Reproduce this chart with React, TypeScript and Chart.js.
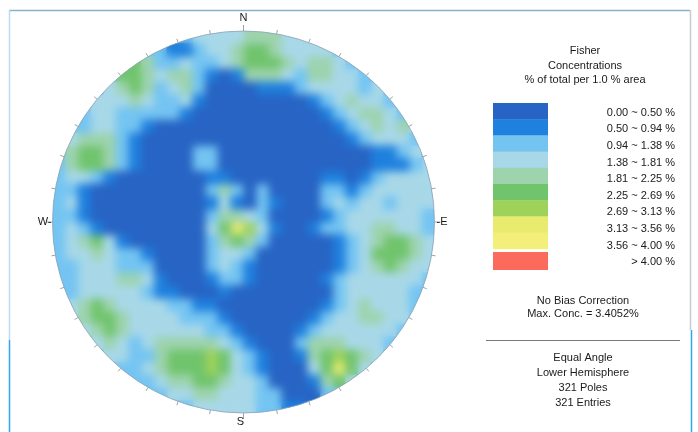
import React, { useEffect, useRef } from 'react';
import { Chart, registerables } from 'chart.js';

Chart.register(...registerables);

// Contour level (1..9) of each grid cell of the stereonet, rows from north to south, '.' = outside the net
const GRID_ROWS: string[] = [
  ".........334444555444.........",
  ".......3322344566544443.......",
  ".....56533433456665455433.....",
  "....3665455321255543554433....",
  "...345653453111122234444343...",
  "..3444543342111111112345443...",
  "..34433333211111111112345543..",
  ".3344332111111111111112345454.",
  ".4555321111111111111111234443.",
  "356653211113311111111111122343",
  "356653211113311111111111122234",
  "344321111111221111111221234444",
  "332111111111353131111332344444",
  "342111111111242132111343443444",
  "332111111111355431111234444443",
  "343211111111468742112334455443",
  "345642111111356531111123456654",
  "344543321111344311111123466654",
  "334443331111343211111123456544",
  "334445542111233211111234444443",
  "334444432211121111111134444433",
  ".4565444433221111111123454443.",
  ".4566544443332111111234455443.",
  "..45654444443321111234444443..",
  "..3454345555543211135554443...",
  "...344335666764321125676543...",
  "....3334566676432111468643....",
  ".....33345566544311125643.....",
  ".......3344554443311133.......",
  ".........334444433223.........",
];

const LEVEL_LABELS: string[] = [
  "0.00 ~ 0.50 %",
  "0.50 ~ 0.94 %",
  "0.94 ~ 1.38 %",
  "1.38 ~ 1.81 %",
  "1.81 ~ 2.25 %",
  "2.25 ~ 2.69 %",
  "2.69 ~ 3.13 %",
  "3.13 ~ 3.56 %",
  "3.56 ~ 4.00 %",
  "> 4.00 %",
];

const LEVEL_COLORS: string[] = [
  "#2764c4",
  "#1f80de",
  "#74c4f2",
  "#a8d8e8",
  "#9dd3ad",
  "#70c46c",
  "#9ed25a",
  "#e9eb6e",
  "#f3ef7a",
  "#fb6a5a",
];

const COMPASS: string[] = ["N", "-E", "S", "W-"];
const TITLE_LINES: string[] = ["Fisher", "Concentrations", "% of total per 1.0 % area"];
const NOTE_LINES: string[] = ["No Bias Correction", "Max. Conc. = 3.4052%"];
const INFO_LINES: string[] = ["Equal Angle", "Lower Hemisphere", "321 Poles", "321 Entries"];

const FONT = '11px "Liberation Sans", Arial, sans-serif';

function circleOf(chart: any) {
  const x = chart.scales.x;
  const y = chart.scales.y;
  const cx = x.getPixelForValue(0);
  const cy = y.getPixelForValue(0);
  const r = x.getPixelForValue(1) - cx;
  return { cx, cy, r };
}

const stereoPlugin = {
  id: 'stereo',
  beforeDatasetsDraw(chart: any) {
    const { ctx } = chart;
    const { cx, cy, r } = circleOf(chart);
    ctx.save();
    ctx.beginPath();
    ctx.arc(cx, cy, r, 0, Math.PI * 2);
    ctx.clip();
  },
  afterDatasetsDraw(chart: any) {
    const { ctx, canvas } = chart;
    ctx.restore();
    const { cx, cy, r } = circleOf(chart);
    const off = document.createElement('canvas');
    off.width = canvas.width;
    off.height = canvas.height;
    const octx = off.getContext('2d');
    if (octx) {
      octx.drawImage(canvas, 0, 0);
      ctx.save();
      ctx.beginPath();
      ctx.arc(cx, cy, r, 0, Math.PI * 2);
      ctx.clip();
      ctx.filter = 'blur(4px)';
      ctx.drawImage(off, 0, 0, canvas.width, canvas.height, 0, 0, chart.width, chart.height);
      ctx.restore();
    }
  },
  afterDraw(chart: any) {
    const { ctx } = chart;
    const { cx, cy, r } = circleOf(chart);
    ctx.save();

    // frame lines
    ctx.lineWidth = 1.5;
    ctx.strokeStyle = '#86b2cf';
    ctx.beginPath();
    ctx.moveTo(9, 10.5);
    ctx.lineTo(690, 10.5);
    ctx.stroke();
    ctx.strokeStyle = '#b9dcf2';
    ctx.beginPath();
    ctx.moveTo(9.5, 10);
    ctx.lineTo(9.5, 340);
    ctx.stroke();
    ctx.strokeStyle = '#2fa6f0';
    ctx.beginPath();
    ctx.moveTo(9.5, 340);
    ctx.lineTo(9.5, 432);
    ctx.stroke();
    ctx.strokeStyle = '#c7ccd2';
    ctx.beginPath();
    ctx.moveTo(690.5, 10);
    ctx.lineTo(690.5, 330);
    ctx.stroke();
    ctx.strokeStyle = '#2fa6f0';
    ctx.beginPath();
    ctx.moveTo(691.5, 330);
    ctx.lineTo(691.5, 432);
    ctx.stroke();

    // net outline and ticks
    ctx.lineWidth = 0.8;
    ctx.strokeStyle = '#8da2b4';
    ctx.beginPath();
    ctx.arc(cx, cy, r, 0, Math.PI * 2);
    ctx.stroke();
    ctx.strokeStyle = '#9aa3aa';
    ctx.lineWidth = 1;
    for (let a = 0; a < 360; a += 10) {
      const t = (a * Math.PI) / 180;
      const dx = Math.sin(t);
      const dy = -Math.cos(t);
      const len = a % 90 === 0 ? 6 : 4;
      ctx.beginPath();
      ctx.moveTo(cx + dx * r, cy + dy * r);
      ctx.lineTo(cx + dx * (r + len), cy + dy * (r + len));
      ctx.stroke();
    }

    // compass labels
    ctx.font = FONT;
    ctx.fillStyle = '#1a1a1a';
    ctx.textBaseline = 'middle';
    ctx.textAlign = 'center';
    ctx.fillText(COMPASS[0], cx, cy - r - 13);
    ctx.fillText(COMPASS[2], cx - 3, cy + r + 9);
    ctx.textAlign = 'left';
    ctx.fillText(COMPASS[1], cx + r + 2, cy);
    ctx.textAlign = 'right';
    ctx.fillText(COMPASS[3], cx - r - 1, cy);

    // legend title
    ctx.textAlign = 'center';
    TITLE_LINES.forEach((t, k) => ctx.fillText(t, 585, 51 + k * 14.5));

    // swatches
    for (let k = 0; k < 9; k++) {
      ctx.fillStyle = LEVEL_COLORS[k];
      ctx.fillRect(493, 103 + k * 16.2, 55, 16.6);
    }
    ctx.fillStyle = LEVEL_COLORS[9];
    ctx.fillRect(493, 252, 55, 18);

    ctx.fillStyle = '#1a1a1a';
    ctx.textAlign = 'right';
    LEVEL_LABELS.forEach((t, k) => ctx.fillText(t, 675, 112.7 + k * 16.6));

    ctx.textAlign = 'center';
    NOTE_LINES.forEach((t, k) => ctx.fillText(t, 583, 301 + k * 13));

    ctx.strokeStyle = '#7a7a7a';
    ctx.lineWidth = 1;
    ctx.beginPath();
    ctx.moveTo(486, 340.5);
    ctx.lineTo(680, 340.5);
    ctx.stroke();

    INFO_LINES.forEach((t, k) => ctx.fillText(t, 583, 358 + k * 15));

    ctx.restore();
  },
};

export default function App() {
  const ref = useRef<HTMLCanvasElement>(null);

  useEffect(() => {
    const canvas = ref.current;
    if (!canvas) return;
    const n = GRID_ROWS.length;
    const step = 2 / n;
    const radiusFn = (c: any) => {
      const sx = c.chart.scales.x;
      const cell = Math.abs(sx.getPixelForValue(step) - sx.getPixelForValue(0));
      return cell * Math.SQRT1_2 + 0.6;
    };
    const datasets = LEVEL_LABELS.slice(0, 9).map((label, k) => {
      const pts: { x: number; y: number }[] = [];
      GRID_ROWS.forEach((row, j) => {
        for (let i = 0; i < row.length; i++) {
          if (row[i] === String(k + 1)) {
            pts.push({ x: -1 + (i + 0.5) * step, y: 1 - (j + 0.5) * step });
          }
        }
      });
      return {
        label,
        data: pts,
        backgroundColor: LEVEL_COLORS[k],
        borderWidth: 0,
        pointStyle: 'rect' as const,
        pointRadius: radiusFn,
        pointHoverRadius: radiusFn,
      };
    });

    const chart = new Chart(canvas, {
      type: 'scatter',
      data: { datasets },
      options: {
        responsive: false,
        animation: false,
        devicePixelRatio: 1,
        events: [],
        layout: { padding: { left: 52.5, right: 263.5, top: 31, bottom: 19 } },
        plugins: { legend: { display: false }, tooltip: { enabled: false }, title: { display: false } },
        scales: {
          x: { type: 'linear', min: -1, max: 1, display: false },
          y: { type: 'linear', min: -1, max: 1, display: false },
        },
      },
      plugins: [stereoPlugin],
    });
    return () => chart.destroy();
  }, []);

  return (
    <div style={{ position: 'fixed', left: 0, top: 0, width: 698, height: 432, background: '#ffffff' }}>
      <canvas ref={ref} width={698} height={432} style={{ display: 'block', width: 698, height: 432 }} />
    </div>
  );
}
